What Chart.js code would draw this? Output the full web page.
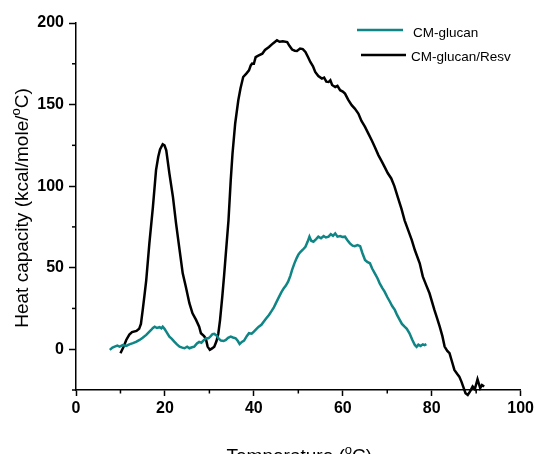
<!DOCTYPE html>
<html>
<head>
<meta charset="utf-8">
<script src="https://cdn.jsdelivr.net/npm/chart.js@4/dist/chart.umd.min.js"></script>
<style>
html,body{margin:0;padding:0;background:#fff;}
#wrap{width:537px;height:454px;position:relative;}
</style>
</head>
<body>
<div id="wrap"><canvas id="c" width="537" height="454"></canvas></div>
<script>
// ---- data ----
const seriesNames = ['CM-glucan', 'CM-glucan/Resv'];
const tempGlucan = [7.6,8.2,8.7,9.3,9.8,10.5,11.3,12.0,12.8,13.5,14.3,15.0,15.8,16.4,16.9,17.3,17.7,18.2,18.8,19.2,19.5,19.9,20.3,21.0,21.5,22.1,22.7,23.3,23.9,24.4,25.0,25.5,26.1,26.6,27.2,27.7,28.2,28.8,29.3,29.8,30.3,30.7,31.1,31.6,32.1,32.6,33.2,33.7,34.2,34.8,35.3,35.9,36.4,36.8,37.3,37.8,38.4,38.9,39.5,40.0,40.6,41.1,41.7,42.2,42.8,43.4,44.0,44.5,45.1,45.6,46.2,46.7,47.2,47.7,48.2,48.6,49.1,49.6,50.0,50.4,51.0,51.6,52.1,52.5,52.9,53.4,54.0,54.5,55.1,55.7,56.2,56.8,57.3,57.8,58.3,58.8,59.4,59.9,60.5,61.0,61.6,62.2,62.7,63.3,63.9,64.4,65.0,65.5,66.1,66.6,67.2,67.8,68.3,68.9,69.4,70.0,70.6,71.1,71.7,72.2,72.8,73.3,73.9,74.4,75.0,75.6,76.2,76.6,77.0,77.5,78.0,78.4,78.8];
const cpGlucan = [-0.4,1,1.6,2.2,1.6,2.5,2,3,3.7,4.5,5.7,7,8.8,10.5,11.8,13,13.8,13,13.5,12.8,13.8,12.5,10.8,7.7,6.5,4.7,3,1.6,1,0.6,1.5,0.6,1.2,1.6,3.5,4.5,4,5.7,6.7,6.7,8,9.2,9.4,8.5,6.5,5.3,5,5.7,7,7.7,7.2,6.7,5,3.2,4.5,5.3,8,9.8,9.5,10.8,12.5,13.8,15,16.9,19,21,23.5,25.7,29,31.8,35,37.3,39,41.4,45,48.6,52.5,55.7,58,59.4,61,62.8,66,69,66.5,65.9,67.5,69,68,69.4,68.5,69,70.5,69.5,71,69,69.4,68.8,69,67,64.9,63.5,63.2,63.8,63.2,59,54.7,53.5,52.7,49.5,46.5,43.5,40.4,37.5,35.3,32,29.1,26.5,24.1,21,18,15.5,13.8,12.5,9.8,6,2.6,1.5,2.8,2,3,2.5,3.1];
const tempResv = [10.0,10.7,11.3,12.0,12.6,13.6,14.2,14.6,15.0,15.4,15.8,16.5,17.3,18.0,18.5,18.9,19.5,19.9,20.3,21.0,21.8,22.5,23.3,24.0,24.7,25.5,26.2,27.0,27.7,28.1,28.8,29.2,29.6,30.1,30.6,31.1,31.6,32.0,32.4,32.9,33.3,33.7,34.3,34.8,35.2,35.8,36.5,37.0,37.6,38.3,38.9,39.3,39.6,40.0,40.4,41.0,41.9,42.5,43.4,44.3,45.2,45.8,46.5,47.5,48.0,48.6,49.2,49.7,50.4,51.0,51.6,52.2,52.7,53.3,53.8,54.5,55.3,55.8,56.3,56.8,57.2,57.6,58.3,58.8,59.4,60.0,60.5,61.2,62.0,62.7,63.5,64.2,65.0,65.7,66.5,67.2,68.0,68.7,69.4,70.1,70.9,71.6,72.4,73.2,73.9,74.7,75.5,76.2,77.3,78.0,78.8,79.5,80.6,81.2,81.8,82.4,82.9,83.5,84.0,84.6,85.1,85.7,86.2,86.7,87.2,87.6,88.1,88.6,89.2,89.7,90.3,90.9,91.3,91.8];
const cpResv = [-2.5,1.5,5.7,9,10.5,11.2,12.5,15.5,24,33,42.4,64.9,87.3,109.8,118,122.5,125.7,125,122,107.8,93.4,77.1,60.8,46.5,38.3,28.2,22,18,13.8,9.8,8,6.5,1.6,-0.4,0.5,1.6,5,9.5,18,32.2,45,58.8,79.2,103.7,120,138.4,152.6,160,166.9,169,171,174,175.1,175,179.1,180,181.2,183.5,185.3,187.5,189.4,188.5,188.8,188.3,186,183.7,183,182.8,184.3,184,182.2,179,176.1,173.5,170,167.5,165.9,166.5,164,163.8,164.9,162,160.8,161.5,158.8,158,156.7,153,149.6,147.5,144.5,140,136.3,132.5,128.1,124,119,115.5,111.8,108,104.7,100,93,86,79,73.0,67,60.8,52.7,44.5,39,34.3,24.1,19,13.8,8,1.6,-1,-2.4,-8,-12.7,-15,-16.8,-20,-23.9,-27,-28,-26,-22.9,-24.5,-18.4,-23.9,-22,-22.9];
const xTicks = [0,20,40,60,80,100];
const xMinorTicks = [10,30,50,70,90];
const yTicks = [0,50,100,150,200];
const yMinorTicks = [-25,25,75,125,175];
const xTitle = ['Temperature (', 'o', 'C)'];
const yTitle = ['Heat capacity (kcal/mole/', 'o', 'C)'];

// ---- styles ----
const FONT = '"Liberation Sans", Arial, sans-serif';
const colors = ['#0f8585', '#000000'];

function toPoints(xs, ys){ return xs.map((x,i)=>({x:x, y:ys[i]})); }

function drawSupText(ctx, parts, size, supSize, supRaise){
  ctx.font = size + 'px ' + FONT;
  const w0 = ctx.measureText(parts[0]).width;
  const w2 = ctx.measureText(parts[2]).width;
  ctx.font = supSize + 'px ' + FONT;
  const w1 = ctx.measureText(parts[1]).width;
  const total = w0 + w1 + w2;
  let x = -total/2;
  ctx.textAlign = 'left';
  ctx.textBaseline = 'alphabetic';
  ctx.font = size + 'px ' + FONT;
  ctx.fillText(parts[0], x, 0); x += w0;
  ctx.font = supSize + 'px ' + FONT;
  ctx.fillText(parts[1], x, -supRaise); x += w1;
  ctx.font = size + 'px ' + FONT;
  ctx.fillText(parts[2], x, 0);
}

const decorPlugin = {
  id: 'decor',
  afterDraw(chart){
    const ctx = chart.ctx;
    const xs = chart.scales.x, ys = chart.scales.y;
    const area = chart.chartArea;
    ctx.save();
    ctx.strokeStyle = '#000';
    ctx.lineWidth = 1.5;
    // minor ticks
    xMinorTicks.forEach(v=>{
      const px = xs.getPixelForValue(v);
      ctx.beginPath(); ctx.moveTo(px, area.bottom); ctx.lineTo(px, area.bottom+3.5); ctx.stroke();
    });
    yMinorTicks.forEach(v=>{
      const py = ys.getPixelForValue(v);
      ctx.beginPath(); ctx.moveTo(area.left, py); ctx.lineTo(area.left-4, py); ctx.stroke();
    });
    // axis titles
    ctx.fillStyle = '#000';
    ctx.save();
    ctx.translate((area.left+area.right)/2 + 1, 462);
    drawSupText(ctx, xTitle, 19, 13, 8);
    ctx.restore();
    ctx.save();
    ctx.translate(27.5, 208);
    ctx.rotate(-Math.PI/2);
    drawSupText(ctx, yTitle, 19, 13, 8);
    ctx.restore();
    // legend
    const legendRows = [{x1:357,x2:403,y:30,tx:413,ty:33},{x1:361,x2:406,y:55,tx:411,ty:57}];
    chart.data.datasets.forEach((ds,i)=>{
      const r = legendRows[i];
      ctx.strokeStyle = ds.borderColor;
      ctx.lineWidth = 2.5;
      ctx.beginPath(); ctx.moveTo(r.x1, r.y); ctx.lineTo(r.x2, r.y); ctx.stroke();
      ctx.fillStyle = '#000';
      ctx.font = '13.5px ' + FONT;
      ctx.textAlign = 'left';
      ctx.textBaseline = 'middle';
      ctx.fillText(ds.label, r.tx, r.ty);
    });
    ctx.restore();
  }
};

new Chart(document.getElementById('c'), {
  type: 'line',
  data: {
    datasets: [
      {label: seriesNames[0], data: toPoints(tempGlucan, cpGlucan), borderColor: colors[0], borderWidth: 2.5, pointRadius: 0, tension: 0, fill: false, clip: false},
      {label: seriesNames[1], data: toPoints(tempResv, cpResv), borderColor: colors[1], borderWidth: 2.5, pointRadius: 0, tension: 0, fill: false, clip: false}
    ]
  },
  plugins: [decorPlugin],
  options: {
    responsive: false,
    animation: false,
    devicePixelRatio: 1,
    layout: {padding: {top: 23, right: 14, left: 0, bottom: 0}},
    plugins: {legend: {display: false}, tooltip: {enabled: false}, title: {display: false}},
    scales: {
      x: {
        type: 'linear', min: 0, max: 100,
        afterBuildTicks(scale){ scale.ticks = xTicks.map(v=>({value:v})); },
        afterFit(scale){ scale.height = 64; },
        grid: {drawOnChartArea: false, drawTicks: true, tickLength: 6, tickColor: '#000', tickWidth: 1.5},
        border: {display: true, color: '#000', width: 1.5},
        ticks: {color: '#000', font: {family: FONT, size: 16, weight: 'bold'}, padding: 3, maxRotation: 0, autoSkip: false}
      },
      y: {
        type: 'linear', min: -25, max: 200,
        afterBuildTicks(scale){ scale.ticks = yTicks.map(v=>({value:v})); },
        afterFit(scale){ scale.width = 76; },
        grid: {drawOnChartArea: false, drawTicks: true, tickLength: 7, tickColor: '#000', tickWidth: 1.5},
        border: {display: true, color: '#000', width: 1.5},
        ticks: {color: '#000', font: {family: FONT, size: 16, weight: 'bold'}, padding: 5, autoSkip: false}
      }
    }
  }
});
</script>
</body>
</html>
